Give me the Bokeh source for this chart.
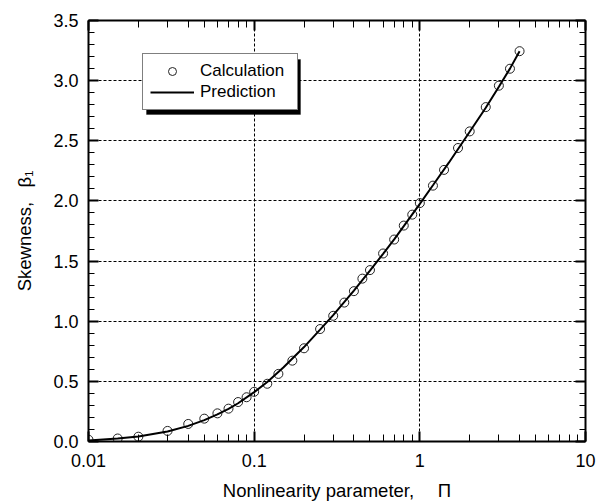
from bokeh.plotting import figure
from bokeh.models import (Range1d, FixedTicker, LogAxis, LinearAxis, Legend, LegendItem,
                          CustomJSTickFormatter, PrintfTickFormatter, ColumnDataSource,
                          BoxAnnotation)
from bokeh.embed import file_html
from bokeh.resources import INLINE

# --- data ---
calc_pi = [0.01, 0.015, 0.02, 0.03, 0.04, 0.05, 0.06, 0.07, 0.08, 0.09, 0.1, 0.12, 0.14,
           0.17, 0.2, 0.25, 0.3, 0.35, 0.4, 0.45, 0.5, 0.6, 0.7, 0.8, 0.9, 1.0, 1.2, 1.4,
           1.7, 2.0, 2.5, 3.0, 3.5, 4.0]
calc_beta = [0.015, 0.025, 0.04, 0.088, 0.146, 0.19, 0.234, 0.273, 0.328, 0.368, 0.413,
             0.48, 0.562, 0.672, 0.775, 0.935, 1.045, 1.155, 1.25, 1.354, 1.425, 1.563,
             1.679, 1.795, 1.886, 1.982, 2.127, 2.258, 2.44, 2.578, 2.78, 2.958, 3.099, 3.245]

pred_pi = [0.01, 0.015, 0.02, 0.03, 0.04, 0.05, 0.06, 0.07, 0.08, 0.1, 0.12, 0.15, 0.2,
           0.25, 0.3, 0.4, 0.5, 0.6, 0.7, 0.8, 1.0, 1.2, 1.5, 2.0, 2.5, 3.0, 3.5, 4.0]
pred_beta = [0.008, 0.025, 0.042, 0.083, 0.13, 0.178, 0.225, 0.272, 0.318, 0.41, 0.495,
             0.615, 0.785, 0.93, 1.05, 1.255, 1.42, 1.56, 1.68, 1.79, 1.975, 2.13, 2.32,
             2.575, 2.775, 2.95, 3.10, 3.245]

x_major = [0.01, 0.1, 1, 10]
x_minor = [m * d for d in [0.01, 0.1, 1] for m in range(2, 10)]
x_labels = {0.01: "0.01", 0.1: "0.1", 1: "1", 10: "10"}
y_major = [0.0, 0.5, 1.0, 1.5, 2.0, 2.5, 3.0, 3.5]
y_minor = [round(0.1 * i, 1) for i in range(0, 36)]
x_grid = [0.1, 1]
y_grid = [0.5, 1.0, 1.5, 2.0, 2.5, 3.0]

x_title = "Nonlinearity parameter,\u2003\u00a0Π"
y_title = "Skewness,\u2002\u00a0β₁"
series_names = ["Calculation", "Prediction"]

FONT = "Liberation Sans"

p = figure(width=602, height=503, x_axis_type="log",
           x_range=Range1d(0.01, 10), y_range=Range1d(0, 3.5),
           output_backend="svg", toolbar_location=None,
           min_border_left=88, min_border_right=17, min_border_top=20, min_border_bottom=60)
p.outline_line_color = None
p.background_fill_color = "white"
p.border_fill_color = "white"

xt = FixedTicker(ticks=x_major, minor_ticks=x_minor)
yt = FixedTicker(ticks=y_major, minor_ticks=y_minor)

p.xgrid.ticker = FixedTicker(ticks=x_grid, minor_ticks=[])
p.ygrid.ticker = FixedTicker(ticks=y_grid, minor_ticks=[])
for g in (p.xgrid, p.ygrid):
    g.grid_line_color = "black"
    g.grid_line_width = 1
    g.grid_line_dash = "3 2"


def style_axis(ax, is_x):
    ax.axis_line_width = 2
    ax.axis_line_color = "black"
    ax.major_tick_in = 10
    ax.major_tick_out = 0
    ax.minor_tick_in = 7 if is_x else 6
    ax.minor_tick_out = 0
    ax.major_tick_line_width = 2
    ax.minor_tick_line_width = 1
    ax.major_tick_line_color = "black"
    ax.minor_tick_line_color = "black"
    ax.major_label_text_font = FONT
    ax.major_label_text_font_size = "18px"
    ax.major_label_text_color = "black"
    ax.axis_label_text_font = FONT
    ax.axis_label_text_font_size = "18.5px"
    ax.axis_label_text_font_style = "normal"
    ax.axis_label_text_color = "black"


xa = p.xaxis[0]
xa.ticker = xt
xa.major_label_overrides = x_labels
xa.axis_label = x_title
xa.major_label_standoff = 12
xa.axis_label_standoff = 10
style_axis(xa, True)

ya = p.yaxis[0]
ya.ticker = yt
ya.formatter = PrintfTickFormatter(format="%.1f")
ya.axis_label = y_title
ya.major_label_standoff = 10
ya.axis_label_standoff = 15
style_axis(ya, False)

blank = CustomJSTickFormatter(code="return ''")
top = LogAxis(ticker=xt, formatter=blank, major_label_standoff=0)
style_axis(top, True)
p.add_layout(top, "above")
right = LinearAxis(ticker=yt, formatter=blank, major_label_standoff=0)
style_axis(right, False)
p.add_layout(right, "right")

src_c = ColumnDataSource(dict(x=calc_pi, y=calc_beta))
src_p = ColumnDataSource(dict(x=pred_pi, y=pred_beta))
r_calc = p.scatter("x", "y", source=src_c, marker="circle", size=9,
                   fill_color=None, line_color="#222222", line_width=1)
r_pred = p.line("x", "y", source=src_p, line_color="black", line_width=2)

# legend box geometry (screen px, from frame's bottom-left)
LG_X, LG_Y, LG_W, LG_H, SH = 54, 331, 154, 55, 4
shadow = BoxAnnotation(left=LG_X + SH, right=LG_X + LG_W + SH,
                       bottom=LG_Y - SH, top=LG_Y + LG_H - SH,
                       left_units="screen", right_units="screen",
                       bottom_units="screen", top_units="screen",
                       fill_color="black", fill_alpha=1, line_color="black",
                       level="overlay")
p.add_layout(shadow)

lg = Legend(items=[LegendItem(label=series_names[0], renderers=[r_calc]),
                   LegendItem(label=series_names[1], renderers=[r_pred])],
            location=(LG_X, LG_Y), orientation="vertical")
lg.label_text_font = FONT
lg.label_text_font_size = "17px"
lg.label_text_color = "black"
lg.padding = 7
lg.spacing = 1
lg.margin = 0
lg.glyph_width = 44
lg.glyph_height = 20
lg.label_height = 20
lg.label_width = 90
lg.label_standoff = 6
lg.border_line_color = "black"
lg.border_line_width = 1
lg.background_fill_color = "white"
lg.background_fill_alpha = 1
p.add_layout(lg, "center")

open("out.html", "w").write(file_html(p, INLINE))
